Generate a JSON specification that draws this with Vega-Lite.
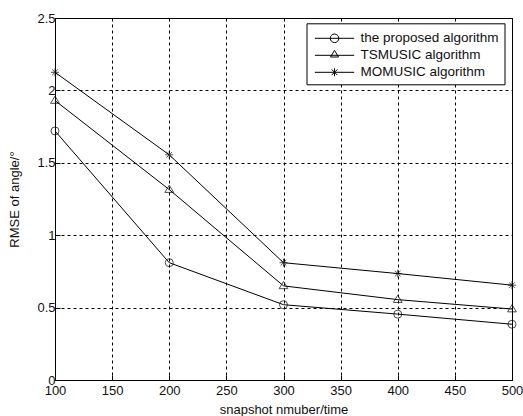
{
  "$schema": "https://vega.github.io/schema/vega-lite/v6.json",
  "width": 457,
  "height": 362,
  "autosize": {"type": "none"},
  "padding": {"left": 55, "top": 18, "right": 11, "bottom": 36},
  "background": "white",
  "config": {
    "view": {"stroke": "#000", "strokeWidth": 1},
    "font": "Liberation Sans",
    "axis": {
      "labelFont": "Liberation Sans",
      "labelFontSize": 13,
      "labelColor": "#111",
      "titleFont": "Liberation Sans",
      "titleFontSize": 13,
      "titleFontWeight": "normal",
      "titleColor": "#111",
      "domainColor": "#000",
      "tickColor": "#000",
      "tickSize": -5,
      "gridColor": "#000",
      "gridOpacity": 1,
      "gridDash": [3, 3],
      "gridWidth": 1
    },
    "legend": {
      "orient": "none",
      "legendX": 251.5,
      "legendY": 5.3,
      "strokeColor": "#000",
      "fillColor": "white",
      "padding": 5,
      "cornerRadius": 0,
      "labelFont": "Liberation Sans",
      "labelFontSize": 13.5,
      "labelColor": "#111",
      "labelOffset": 29,
      "symbolSize": 361,
      "symbolStrokeWidth": 1,
      "symbolStrokeColor": "#000",
      "symbolFillColor": "transparent",
      "symbolOpacity": 1,
      "rowPadding": 0
    }
  },
  "data": {
    "values": [
      {"series": "the proposed algorithm", "n": 100, "rmse": 1.72},
      {"series": "the proposed algorithm", "n": 200, "rmse": 0.81},
      {"series": "the proposed algorithm", "n": 300, "rmse": 0.52},
      {"series": "the proposed algorithm", "n": 400, "rmse": 0.455},
      {"series": "the proposed algorithm", "n": 500, "rmse": 0.385},
      {"series": "TSMUSIC algorithm", "n": 100, "rmse": 1.93},
      {"series": "TSMUSIC algorithm", "n": 200, "rmse": 1.315},
      {"series": "TSMUSIC algorithm", "n": 300, "rmse": 0.65},
      {"series": "TSMUSIC algorithm", "n": 400, "rmse": 0.555},
      {"series": "TSMUSIC algorithm", "n": 500, "rmse": 0.49},
      {"series": "MOMUSIC algorithm", "n": 100, "rmse": 2.125},
      {"series": "MOMUSIC algorithm", "n": 200, "rmse": 1.555},
      {"series": "MOMUSIC algorithm", "n": 300, "rmse": 0.81},
      {"series": "MOMUSIC algorithm", "n": 400, "rmse": 0.735},
      {"series": "MOMUSIC algorithm", "n": 500, "rmse": 0.655}
    ]
  },
  "encoding": {
    "x": {
      "field": "n",
      "type": "quantitative",
      "scale": {"domain": [100, 500], "nice": false, "zero": false},
      "axis": {"values": [100, 150, 200, 250, 300, 350, 400, 450, 500], "title": "snapshot nmuber/time", "titlePadding": 6, "labelPadding": 9, "labelFlush": false}
    },
    "y": {
      "field": "rmse",
      "type": "quantitative",
      "scale": {"domain": [0, 2.5], "nice": false},
      "axis": {
        "values": [0, 0.5, 1, 1.5, 2, 2.5],
        "format": "~g",
        "title": "RMSE of angle/°",
        "titlePadding": 15,
        "labelPadding": 5,
        "labelFlush": false,
        "encode": {"labels": {"dy": {"condition": {"test": "datum.value === 0", "value": -3}, "value": 0}}}
      }
    }
  },
  "layer": [
    {
      "mark": {"type": "line", "color": "#000", "strokeWidth": 1},
      "encoding": {"detail": {"field": "series"}}
    },
    {
      "mark": {"type": "point", "filled": false, "color": "#000", "strokeWidth": 1, "size": 0},
      "encoding": {
        "shape": {
          "field": "series",
          "type": "nominal",
          "scale": {
            "domain": ["the proposed algorithm", "TSMUSIC algorithm", "MOMUSIC algorithm"],
            "range": [
              "M-0.7,0L3.44,0M0.92,0A0.45,0.45,0,1,0,1.82,0A0.45,0.45,0,1,0,0.92,0",
              "M-0.7,0L3.44,0M1.37,-0.52L1.79,0.18L0.95,0.18Z",
              "M-0.7,0L3.44,0M1.37,-0.42L1.37,0.42M1.07,-0.3L1.67,0.3M1.07,0.3L1.67,-0.3"
            ]
          },
          "legend": {"title": null}
        }
      }
    },
    {
      "transform": [{"filter": "datum.series === 'the proposed algorithm'"}],
      "mark": {"type": "point", "shape": "circle", "filled": false, "color": "#000", "strokeWidth": 1, "size": 64}
    },
    {
      "transform": [{"filter": "datum.series === 'TSMUSIC algorithm'"}],
      "mark": {"type": "point", "shape": "M0,-1.1L1.1,0.7L-1.1,0.7Z", "filled": false, "color": "#000", "strokeWidth": 1, "size": 64}
    },
    {
      "transform": [{"filter": "datum.series === 'MOMUSIC algorithm'"}],
      "mark": {"type": "point", "shape": "M-1,0L1,0M0,-1L0,1M-0.7,-0.7L0.7,0.7M-0.7,0.7L0.7,-0.7", "filled": false, "color": "#000", "strokeWidth": 1, "size": 64}
    }
  ]
}
